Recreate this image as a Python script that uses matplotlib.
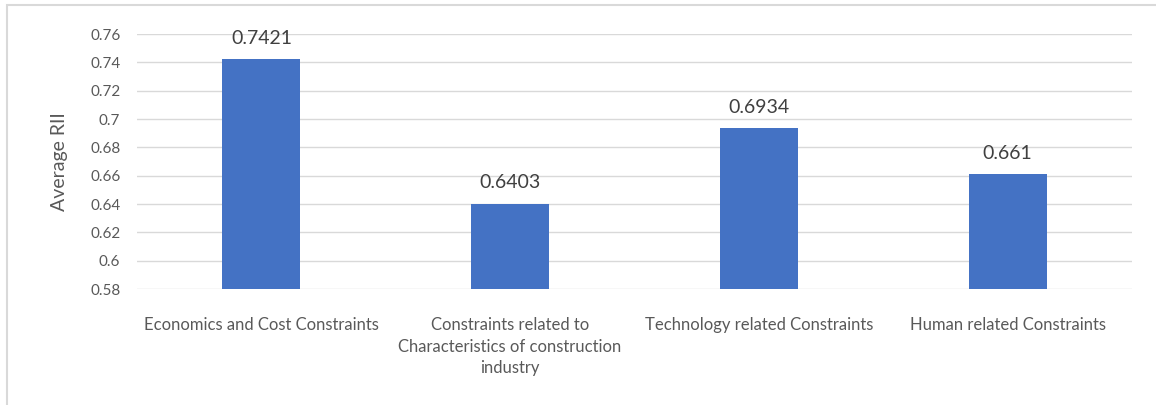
import matplotlib
matplotlib.use("Agg")
import matplotlib.pyplot as plt
from matplotlib.patches import Rectangle

categories = ["Economics and Cost Constraints",
              "Constraints related to\nCharacteristics of construction\nindustry",
              "Technology related Constraints",
              "Human related Constraints"]
values = [0.7421, 0.6403, 0.6934, 0.661]
value_labels = ["0.7421", "0.6403", "0.6934", "0.661"]
yticks = [0.58, 0.60, 0.62, 0.64, 0.66, 0.68, 0.70, 0.72, 0.74, 0.76]
ytick_labels = ["0.58", "0.6", "0.62", "0.64", "0.66", "0.68", "0.7", "0.72", "0.74", "0.76"]

plt.rcParams['font.family'] = ['Lato', 'DejaVu Sans']
W, H = 1156, 405
fig = plt.figure(figsize=(W/100, H/100), dpi=100)
ax = fig.add_axes([137/W, 1-289/H, (1132-137)/W, (289-34)/H])

x = list(range(len(categories)))
bars = ax.bar(x, values, width=0.314, color="#4472C4", zorder=3)
ax.set_xlim(-0.5, 3.5)
ax.set_ylim(0.58, 0.76)
ax.set_yticks(yticks)
ax.set_yticklabels(ytick_labels)
ax.set_xticks(x)
ax.set_xticklabels(categories, linespacing=1.45)
ax.tick_params(axis='y', length=0, pad=12, labelsize=11, labelcolor="#595959")
ax.tick_params(axis='x', length=0, pad=20, labelsize=12, labelcolor="#595959")
ax.grid(axis='y', color="#d9d9d9", linewidth=1, zorder=0)
for s in ax.spines.values():
    s.set_visible(False)
ax.set_ylabel("Average RII", fontsize=14, color="#595959", labelpad=16)

for xi, v, lab in zip(x, values, value_labels):
    ax.annotate(lab, (xi, v), xytext=(0, 9), textcoords="offset points",
                ha="center", va="bottom", fontsize=14, color="#404040")

fig.patches.append(Rectangle((7/W, -0.1), 1.2, 1-5/H+0.1, transform=fig.transFigure,
                             fill=False, edgecolor="#d9d9d9", linewidth=1.5))
fig.savefig("out.png", dpi=100)
